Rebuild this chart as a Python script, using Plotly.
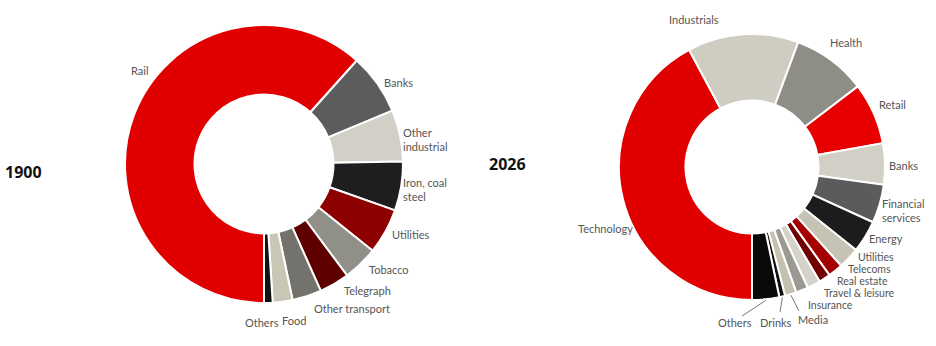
import math
import plotly.graph_objects as go

W, H = 936, 346

# ---------------- data ----------------
labels_1900 = ["Rail", "Banks", "Other<br>industrial", "Iron, coal<br>steel", "Utilities",
               "Tobacco", "Telegraph", "Other transport", "Food", "Others"]
values_1900 = [61.7, 7.1, 6.0, 5.7, 5.3, 4.1, 3.5, 3.4, 2.3, 1.0]
colors_1900 = ["#e10000", "#5c5c5c", "#d2d0c6", "#1e1e1e", "#8e0000",
               "#908f88", "#5e0000", "#73726d", "#c9c6b6", "#111111"]

labels_2026 = ["Technology", "Industrials", "Health", "Retail", "Banks",
               "Financial<br>services", "Energy", "Utilities", "Telecoms", "Real estate",
               "Travel & leisure", "Insurance", "Media", "Drinks", "Others"]
values_2026 = [42.2, 13.5, 9.0, 7.5, 5.0, 4.7, 3.9, 2.6, 1.8, 1.4, 1.6, 1.5, 1.4, 0.7, 3.3]
colors_2026 = ["#e00000", "#cfccc2", "#8e8d86", "#e80000", "#d2d0c6",
               "#5b5b5b", "#1c1c1c", "#c6c3b5", "#a50000", "#720000",
               "#d5d3c9", "#9b9a92", "#c4c1b0", "#111111", "#0a0a0a"]

years = ["1900", "2026"]

# ---------------- layout helpers (pixel -> paper) ----------------
def px(x):
    return x / W

def py(y):
    return 1 - y / H

def domain(cx, cy, r):
    return dict(x=[px(cx - r), px(cx + r)], y=[py(cy + r), py(cy - r)])

C1 = (264, 164, 139)
C2 = (752, 167, 133)

fig = go.Figure()
for lab, val, col, (cx, cy, r) in [(labels_1900, values_1900, colors_1900, C1),
                                   (labels_2026, values_2026, colors_2026, C2)]:
    fig.add_trace(go.Pie(
        labels=lab, values=val, sort=False, direction="clockwise", rotation=180,
        hole=0.5, textinfo="none", hoverinfo="label+value",
        marker=dict(colors=col, line=dict(color="white", width=2)),
        domain=domain(cx, cy, r), showlegend=False,
    ))

# label positions (pixels): x, y, anchor
pos_1900 = [(130, 70, "left"), (383, 83, "left"), (402, 139, "left"), (402, 189, "left"),
            (391, 234, "left"), (368, 269, "left"), (343, 290, "left"), (313, 308, "left"),
            (281, 320, "left"), (244, 322, "left")]
pos_2026 = [(577, 228, "left"), (668, 20, "left"), (829, 42, "left"), (878, 104, "left"),
            (888, 165, "left"), (881, 210, "left"), (868, 238, "left"), (857, 257, "left"),
            (847, 269, "left"), (836, 281, "left"), (823, 293, "left"), (807, 305, "left"),
            (797, 319, "left"), (759, 322, "left"), (717, 322, "left")]

font = dict(family="Lato, 'Noto Sans', sans-serif", size=11, color="#555555")
font_small = dict(family="Lato, 'Noto Sans', sans-serif", size=10.5, color="#555555")
cluster = {"Utilities", "Telecoms", "Real estate", "Travel & leisure", "Insurance"}
annotations = []
for k, (labs, poss) in enumerate([(labels_1900, pos_1900), (labels_2026, pos_2026)]):
    for t, (x, y, a) in zip(labs, poss):
        f = font_small if (k == 1 and t in cluster) else font
        annotations.append(dict(text=t, x=px(x), y=py(y), xref="paper", yref="paper",
                                xanchor=a, yanchor="middle", showarrow=False,
                                font=f, align="left", borderpad=0))

# year titles
for t, (x, y) in zip(years, [(3, 172), (487, 164)]):
    annotations.append(dict(text="<b>%s</b>" % t, x=px(x), y=py(y), xref="paper", yref="paper",
                            xanchor="left", yanchor="middle", showarrow=False,
                            font=dict(family="'Open Sans', 'Noto Sans', sans-serif", size=16,
                                      color="#111111")))

# leader lines for the three small bottom slices of 2026 (start from slice mid-angle)
shapes = []
cx, cy, r = C2
total = sum(values_2026)
cum = 0
mids = {}
for lab, v in zip(labels_2026, values_2026):
    mid = 180 + (cum + v / 2) / total * 360
    mids[lab] = mid
    cum += v
ends = {"Others": (742, 316), "Drinks": (780, 312), "Media": (799, 311)}
for lab, (ex, ey) in ends.items():
    a = math.radians(mids[lab])
    sx = cx + (r + 1) * math.sin(a)
    sy = cy - (r + 1) * math.cos(a)
    shapes.append(dict(type="line", xref="paper", yref="paper",
                       x0=px(sx), y0=py(sy), x1=px(ex), y1=py(ey),
                       line=dict(color="#777777", width=1)))

fig.update_layout(width=W, height=H, margin=dict(l=0, r=0, t=0, b=0),
                  paper_bgcolor="white", plot_bgcolor="white",
                  annotations=annotations, shapes=shapes)

fig.write_html("out.html")
